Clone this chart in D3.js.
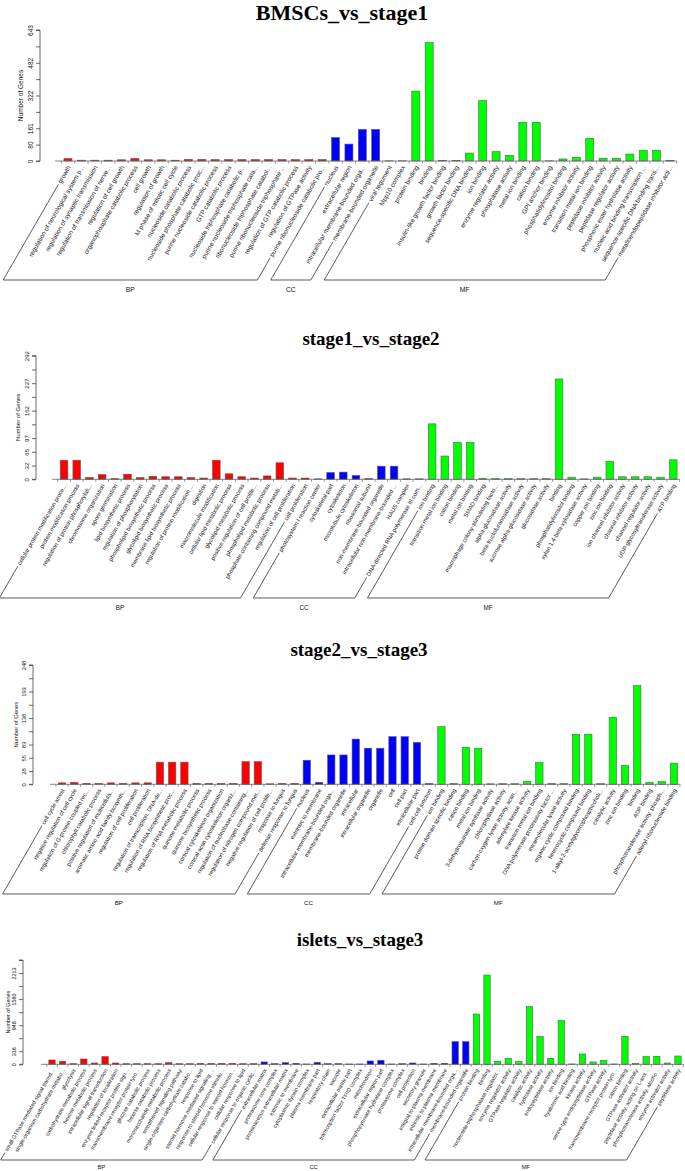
<!DOCTYPE html>
<html><head><meta charset="utf-8">
<script src="https://cdn.jsdelivr.net/npm/d3@7"></script>
<style>html,body{margin:0;padding:0;background:#fff}svg{display:block}</style>
</head><body>
<script>
// ---------------- DATA ----------------
const catNames = ["BP", "CC", "MF"];
const catColors = ["#FF0000", "#0000FF", "#00FF00"];

// Panel 1: BMSCs_vs_stage1
const p1Title = "BMSCs_vs_stage1";
const p1Groups = [20, 4, 22];
const p1Labels = ["growth","regulation of neurological system p...","regulation of synaptic transmission","regulation of transmission of nerve...","regulation of cell growth","organophosphate catabolic process","cell growth","regulation of growth","M phase of mitotic cell cycle","nucleoside catabolic process","nucleoside phosphate catabolic proc...","purine nucleoside catabolic process","GTP catabolic process","nucleoside triphosphate catabolic p...","purine nucleoside triphosphate cata...","ribonucleoside triphosphate catabol...","purine ribonucleoside triphosphate ...","regulation of GTP catabolic process","regulation of GTPase activity","purine ribonucleoside catabolic pro...",
"nucleus","extracellular region","intracellular membrane-bounded orga...","membrane-bounded organelle",
"viral tegument","Mpp10 complex","protein binding","binding","insulin-like growth factor binding","growth factor binding","sequence-specific DNA binding","ion binding","enzyme regulator activity","phosphatase activity","metal ion binding","cation binding","GPI anchor binding","phosphatidylinositol binding","enzyme inhibitor activity","transition metal ion binding","peptidase inhibitor activity","peptidase regulator activity","phosphoric ester hydrolase activity","nucleic acid binding transcription ...","sequence-specific DNA binding trans...","metalloendopeptidase inhibitor acti..."];
const p1Values = [12,4,4,4,6,12,6,6,4,8,8,7,7,7,7,7,7,7,7,7,
115,83,155,155,
1,1,343,581,2,2,39,296,46,28,190,190,1,10,18,111,13,13,34,52,52,2];
const p1TickLabels = ["0","80","161","","322","","482","","643"];
const p1Max = 643;

// Panel 2: stage1_vs_stage2
const p2Title = "stage1_vs_stage2";
const p2Groups = [20, 9, 20];
const p2Labels = ["cellular protein modification proce...","protein modification process","regulation of protein phosphorylati...","chromosome organization","spore germination","lipid biosynthetic process","regulation of phosphorylation","phospholipid biosynthetic process","glycolipid biosynthetic process","membrane lipid biosynthetic process","regulation of protein modification ...","digestion","macromolecule modification","cellular lipid metabolic process","glycolipid metabolic process","positive regulation of cell prolife...","phospholipid metabolic process","phosphate-containing compound metab...","regulation of cell proliferation","cell proliferation",
"photosystem I reaction center","cytoskeletal part","cytoskeleton","microtubule cytoskeleton","ribosomal subunit","non-membrane-bounded organelle","intracellular non-membrane-bounded ...","HAUS complex","DNA-directed RNA polymerase III com...",
"ion binding","transition metal ion binding","cation binding","metal ion binding","SMAD binding","macrophage colony-stimulating facto...","alpha-glucosidase activity","beta-fructofuranosidase activity","sucrose alpha-glucosidase activity","glucosidase activity","binding","phosphatidylinositol binding","xylan 1,4-beta-xylosidase activity","copper ion binding","zinc ion binding","ion channel inhibitor activity","channel inhibitor activity","channel regulator activity","UDP-glycosyltransferase activity","ATP binding"];
const p2Values = [45,45,4,11,2,12,4,7,6,6,4,3,45,13,6,3,8,39,3,3,
1,16,17,9,1.5,31,31,1,1,
131,55,87,87,2.5,1.5,1.5,1.5,1.5,1.5,237,5,1,5,42,6,6,6,5,46];
const p2TickLabels = ["0","32","65","97","","162","","227","","292"];
const p2Max = 292;

// Panel 3: stage2_vs_stage3
const p3Title = "stage2_vs_stage3";
const p3Groups = [20, 11, 20];
const p3Labels = ["cell cycle arrest","negative regulation of cell cycle","regulation of G-protein coupled rec...","chlorophyll catabolic process","positive regulation of multicellula...","aromatic amino acid family biosynth...","regulation of cell proliferation","cell proliferation","regulation of transcription, DNA-de...","regulation of RNA biosynthetic proc...","regulation of RNA metabolic process","quinone metabolic process","quinone biosynthetic process","cortical cytoskeleton organization","cortical actin cytoskeleton organiz...","regulation of nucleobase-containing...","regulation of nitrogen compound met...","negative regulation of cell prolife...","response to fungus","defense response to fungus",
"nucleus","extrinsic to membrane","intracellular membrane-bounded orga...","membrane-bounded organelle","intracellular","intracellular organelle","organelle","cell","cell part","intracellular part","cell-cell junction",
"ion binding","protein domain specific binding","cation binding","metal ion binding","3-dehydroquinate synthase activity","chlorophyllase activity","carbon-oxygen lyase activity, actin...","adenylate kinase activity","transition metal ion binding","DNA polymerase processivity factor ...","intramolecular lyase activity","organic cyclic compound binding","heterocyclic compound binding","1-alkyl-2-acetylglycerophosphocholi...","catalytic activity","zinc ion binding","binding","ADP binding","phosphotransferase activity, phosph...","adenyl ribonucleotide binding"];
const p3Values = [3,4,2,2,3,2,3,3,46,46,46,2,2,2,2,47,47,1,2,2,
50,4,61,61,94,75,75,99,99,87,1.5,
120,2,77,75,1,1.5,1.5,5.5,45,2,1.5,104,104,1.5,139,39,205,3.5,5.5,44];
const p3TickLabels = ["0","28","55","83","","138","","193","","248"];
const p3Max = 248;

// Panel 4: islets_vs_stage3
const p4Title = "islets_vs_stage3";
const p4Groups = [20, 20, 20];
const p4Labels = ["small GTPase mediated signal transd...","single-organism carbohydrate metabo...","glycolysis","carbohydrate metabolic process","hexose metabolic process","intracellular signal transduction","regulation of localization","enzyme linked receptor protein sign...","transmembrane receptor protein tyro...","glucose catabolic process","hexose catabolic process","monosaccharide metabolic process","smoothened signaling pathway","single-organism carbohydrate catabo...","response to lipid","steroid hormone mediated signaling ...","response to steroid hormone stimulu...","cellular response to steroid hormon...","cellular response to lipid","cellular response to organic cyclic...",
"extracellular matrix","proteasome core complex","proteinaceous extracellular matrix","extrinsic to membrane","cytoplasmic dynein complex","plasma membrane part","respiratory chain","vacuole","extracellular matrix part","transcription factor TFIID complex","mitochondrion","extracellular region part","phosphopyruvate hydratase complex","proteasome complex","cell projection","secretory granule","integral to plasma membrane","intrinsic to plasma membrane","intracellular membrane-bounded orga...","membrane-bounded organelle",
"protein binding","binding","nucleoside-triphosphatase regulator...","enzyme regulator activity","GTPase regulator activity","catalytic activity","hydrolase activity","endopeptidase activity","ion binding","hyaluronic acid binding","kinase activity","serine-type endopeptidase activity","GTPase activity","transmembrane receptor protein tyro...","cation binding","GTPase activator activity","peptidase activity, acting on L-ami...","phosphotransferase activity, alcoho...","enzyme activator activity","peptidase activity"];
const p4Values = [105,73,16,129,32,186,32,16,16,16,16,40,16,16,24,24,24,24,16,16,
57,16,40,24,8,48,16,16,8,8,81,97,8,16,32,8,24,24,549,549,
1220,2165,73,145,65,1398,679,145,1058,8,250,57,89,8,679,24,186,194,32,202];
const p4TickLabels = ["0","316","","948","","1580","","2213",""];
const p4Max = 2529;

// ---------------- LAYOUT ----------------
const W = 685, H = 1171;
const panels = [
  {title:p1Title, labels:p1Labels, values:p1Values, groups:p1Groups, ticks:p1TickLabels, yMax:p1Max,
   titleX:342, titleY:19.5, titleSize:22, axisX:40, yTop:30, y0:161, xRange:[61.3,676.7], xAxisStart:55,
   bottom:280, catY:292, labelFont:6.4, tickFont:6.5, ylabOff:17},
  {title:p2Title, labels:p2Labels, values:p2Values, groups:p2Groups, ticks:p2TickLabels, yMax:p2Max,
   titleX:371, titleY:345, titleSize:19, axisX:36, yTop:355.7, y0:479.3, xRange:[57.7,679.6], xAxisStart:52,
   bottom:598, catY:610, labelFont:5.9, tickFont:6, ylabOff:16},
  {title:p3Title, labels:p3Labels, values:p3Values, groups:p3Groups, ticks:p3TickLabels, yMax:p3Max,
   titleX:359, titleY:656, titleSize:19, axisX:33, yTop:665, y0:784.3, xRange:[55.9,680.1], xAxisStart:50,
   bottom:894, catY:905, labelFont:5.8, tickFont:5.8, ylabOff:15},
  {title:p4Title, labels:p4Labels, values:p4Values, groups:p4Groups, ticks:p4TickLabels, yMax:p4Max,
   titleX:360, titleY:946, titleSize:19, axisX:23, yTop:960, y0:1064.3, xRange:[46.7,683.3], xAxisStart:41,
   bottom:1160, catY:1169, labelFont:5.4, tickFont:5.4, ylabOff:13}
];

const svg = d3.select("body").append("svg").attr("width", W).attr("height", H)
  .style("font-family", "'Liberation Sans', Arial, sans-serif");
svg.append("rect").attr("width", W).attr("height", H).attr("fill", "#fff");

const ANG = 60, rad = ANG * Math.PI / 180;
const dirX = -Math.cos(rad), dirY = Math.sin(rad);

function drawPanel(cfg) {
  const g = svg.append("g");
  const n = cfg.labels.length;
  const x = d3.scaleBand().domain(d3.range(n)).range(cfg.xRange).paddingInner(0.4).paddingOuter(0.2);
  const y = d3.scaleLinear().domain([0, cfg.yMax]).range([cfg.y0, cfg.yTop]);
  const cats = []; let s = 0;
  cfg.groups.forEach((c, k) => { cats.push({name: catNames[k], start: s, end: s + c - 1, color: catColors[k]}); s += c; });
  const catOf = i => cats.find(c => i >= c.start && i <= c.end);

  // title
  g.append("text").attr("x", cfg.titleX).attr("y", cfg.titleY).attr("text-anchor", "middle")
    .attr("font-family", "'Liberation Serif','Times New Roman',serif").attr("font-weight", "bold")
    .attr("font-size", cfg.titleSize).attr("fill", "#000").text(cfg.title);

  // bars
  g.selectAll("rect.bar").data(cfg.values).join("rect").attr("class", "bar")
    .attr("x", (d, i) => x(i)).attr("width", x.bandwidth())
    .attr("y", d => y(d)).attr("height", d => cfg.y0 - y(d))
    .attr("fill", (d, i) => catOf(i).color).attr("stroke", "#5a5a5a").attr("stroke-width", 0.6);

  // x axis line + ticks at band boundaries
  const step = x.step();
  g.append("line").attr("x1", cfg.xAxisStart).attr("x2", cfg.xRange[1]).attr("y1", cfg.y0).attr("y2", cfg.y0)
    .attr("stroke", "#666").attr("stroke-width", 0.8);
  g.selectAll("line.xt").data(d3.range(n + 1)).join("line").attr("class", "xt")
    .attr("x1", i => cfg.xRange[0] + i * step).attr("x2", i => cfg.xRange[0] + i * step)
    .attr("y1", cfg.y0).attr("y2", cfg.y0 + 2.5).attr("stroke", "#666").attr("stroke-width", 0.7);

  // y axis
  const tickVals = cfg.ticks.map((t, i) => cfg.yMax * i / (cfg.ticks.length - 1));
  const yAxis = d3.axisLeft(y).tickValues(tickVals).tickSize(4).tickFormat((d, i) => cfg.ticks[i]);
  const ya = g.append("g").attr("transform", `translate(${cfg.axisX},0)`).call(yAxis);
  ya.select(".domain").attr("stroke", "#444").attr("stroke-width", 0.8).attr("d", `M-4,${cfg.y0}H0V${cfg.yTop}H-4`);
  ya.selectAll(".tick line").attr("stroke", "#444").attr("stroke-width", 0.8);
  ya.selectAll(".tick text").attr("font-size", cfg.tickFont).attr("fill", "#111")
    .attr("font-family", "'Liberation Sans', Arial, sans-serif")
    .attr("x", null).attr("dy", null).attr("text-anchor", "middle")
    .attr("transform", "translate(-7,0) rotate(-90)");
  g.append("text").attr("transform", `translate(${cfg.axisX - cfg.ylabOff},${(cfg.y0 + cfg.yTop) / 2}) rotate(-90)`)
    .attr("text-anchor", "middle").attr("font-size", cfg.tickFont).attr("fill", "#111").text("Number of Genes");

  // category labels (rotated)
  const ay = cfg.y0 + 5;
  const lab = g.selectAll("text.lab").data(cfg.labels).join("text").attr("class", "lab")
    .attr("transform", (d, i) => `translate(${x(i) + x.bandwidth() / 2 + 1},${ay}) rotate(-${ANG})`)
    .attr("text-anchor", "end").attr("dy", "0.35em").attr("font-size", cfg.labelFont).attr("fill", "#111")
    .text(d => d);
  const lens = [];
  lab.each(function (d, i) { lens[i] = this.getComputedTextLength(); });

  // brackets
  cats.forEach(c => {
    const pts = [c.start, c.end].map(i => {
      const ax = x(i) + x.bandwidth() / 2 + 1;
      const t0 = lens[i] + 2;
      const t1 = (cfg.bottom - ay) / dirY;
      return {x0: ax + dirX * t0, y0: ay + dirY * t0, x1: ax + dirX * t1, y1: cfg.bottom};
    });
    const [L, R] = pts;
    g.append("path").attr("d", `M${L.x0},${L.y0}L${L.x1},${L.y1}L${R.x1},${R.y1}L${R.x0},${R.y0}`)
      .attr("fill", "none").attr("stroke", "#333").attr("stroke-width", 0.8);
    g.append("text").attr("x", (L.x1 + R.x1) / 2).attr("y", cfg.catY).attr("text-anchor", "middle")
      .attr("font-size", cfg.labelFont + 0.4).attr("fill", "#111").text(c.name);
  });
}
panels.forEach(drawPanel);
</script>
</body></html>
